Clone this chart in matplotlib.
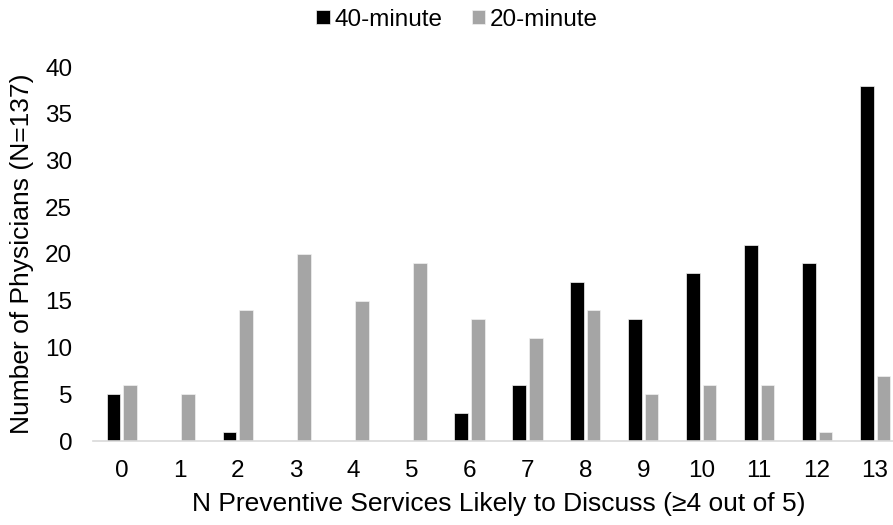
import matplotlib
matplotlib.use("Agg")
import matplotlib.pyplot as plt
import numpy as np

plt.rcParams['font.family'] = ['Liberation Sans', 'DejaVu Sans']

categories = ['0', '1', '2', '3', '4', '5', '6', '7', '8', '9', '10', '11', '12', '13']
series_40 = [5, 0, 1, 0, 0, 0, 3, 6, 17, 13, 18, 21, 19, 38]
series_20 = [6, 5, 14, 20, 15, 19, 13, 11, 14, 5, 6, 6, 1, 7]
yticks = [0, 5, 10, 15, 20, 25, 30, 35, 40]

W, H = 893, 525
fig = plt.figure(figsize=(W / 100, H / 100), dpi=100)
left_px, right_px, top_px, bot_px = 93, 904, 67, 441
ax = fig.add_axes([left_px / W, (H - bot_px) / H, (right_px - left_px) / W, (bot_px - top_px) / H])

x = np.arange(len(categories))
w = 0.235
off = 0.143
ax.bar(x - off, series_40, width=w, color='#000000', edgecolor='#F2F2F2', linewidth=0.5, label='40-minute')
ax.bar(x + off, series_20, width=w, color='#A5A5A5', edgecolor='#F2F2F2', linewidth=0.5, label='20-minute')

ax.set_xlim(-0.5, len(categories) - 0.5)
ax.set_ylim(0, 40)
ax.set_yticks(yticks)
ax.set_xticks(x)
ax.set_xticklabels(categories)
ax.tick_params(axis='both', length=0, labelsize=17.5, colors='#000000')
ax.tick_params(axis='x', pad=14)
ax.tick_params(axis='y', pad=15)
for s in ['top', 'right', 'left']:
    ax.spines[s].set_visible(False)
ax.spines['bottom'].set_color('#D9D9D9')
ax.spines['bottom'].set_linewidth(1.2)

ax.set_xlabel('N Preventive Services Likely to Discuss (≥4 out of 5)', fontsize=19, labelpad=7)
ax.set_ylabel('Number of Physicians (N=137)', fontsize=19, labelpad=8)

leg = fig.legend(loc='upper center', bbox_to_anchor=(0.512, 1.025), ncol=2, frameon=False,
                 fontsize=17.5, handlelength=0.55, handleheight=0.55, handletextpad=0.2,
                 columnspacing=1.2)

fig.savefig('out.png', dpi=100)
